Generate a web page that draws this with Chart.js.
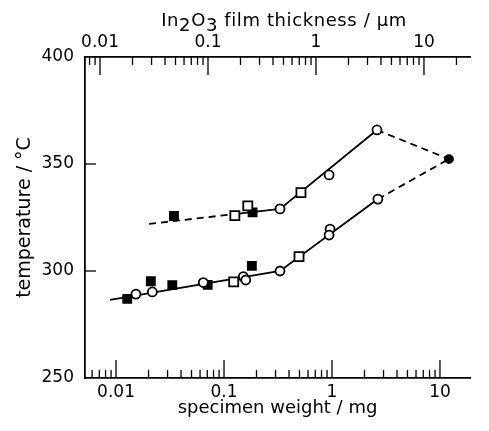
<!DOCTYPE html>
<html>
<head>
<meta charset="utf-8">
<script src="https://cdn.jsdelivr.net/npm/chart.js@4.4.1/dist/chart.umd.min.js"></script>
<style>
  body { margin: 0; background: #ffffff; }
  canvas { display: block; }
</style>
</head>
<body>
<canvas id="grafica" width="489" height="431"></canvas>
<script>
// Specimen weight (mg) and temperature (°C)
const upCircleW = [0.33, 0.94, 2.61];
const upCircleT = [329, 344.9, 365.9];
const upSquareW = [0.126, 0.166, 0.516];
const upSquareT = [325.9, 330.4, 336.6];
const upFilledW = [0.0344, 0.184];
const upFilledT = [325.7, 327.4];

const lowCircleW = [0.0153, 0.0217, 0.0643, 0.151, 0.159, 0.33, 0.96, 0.94, 2.66];
const lowCircleT = [289.2, 290.2, 294.6, 297.4, 295.8, 300.0, 319.6, 316.8, 333.6];
const lowSquareW = [0.123, 0.495];
const lowSquareT = [294.9, 306.7];
const lowFilledW = [0.0127, 0.021, 0.0332, 0.0706, 0.181];
const lowFilledT = [287, 295.2, 293.4, 293.5, 302.4];

const bulkW = [12.1];
const bulkT = [352.3];

// Fitted lines
const upDash1W = [0.0202, 0.125];
const upDash1T = [322, 326.6];
const upSolidW = [0.125, 0.33, 2.61];
const upSolidT = [326.6, 329, 365.9];
const upDash2W = [2.61, 12.1];
const upDash2T = [365.9, 352.3];
const lowSolidW = [0.0088, 0.33, 2.66];
const lowSolidT = [286.5, 300, 333.6];
const lowDashW = [2.66, 12.1];
const lowDashT = [333.6, 352.3];

// Axes
const weightMin = 0.00516;
const weightMax = 18.97;
const thicknessPerWeight = 1.407; // µm per mg
const decadeValues = [0.01, 0.1, 1, 10];
const decadeLabels = ['0.01', '0.1', '1', '10'];
const tempMin = 250;
const tempMax = 400;
const tempStep = 50;

// Top title pieces: [text, subscript?]
const topTitle = [['In', false], ['2', true], ['O', false], ['3', true], [' film thickness / \u00b5m', false]];

const fuente = 'DejaVu Sans';

function pares(xs, ys) {
    return xs.map((x, i) => ({ x: x, y: ys[i] }));
}

function esDecada(v) {
    const l = Math.log10(v);
    return Math.abs(l - Math.round(l)) < 1e-6;
}

function ticksLog(scale) {
    const out = [];
    for (let e = -3; e <= 2; e++) {
        for (let m = 1; m <= 9; m++) {
            const v = m * Math.pow(10, e);
            if (v >= scale.min && v <= scale.max) out.push({ value: v, major: m === 1 });
        }
    }
    scale.ticks = out;
}

function etiquetaDecada(v) {
    const i = decadeValues.findIndex(d => Math.abs(d - v) / d < 1e-6);
    return i >= 0 ? decadeLabels[i] : '';
}

function marcador(label, data, style, radius, filled) {
    return {
        type: 'scatter',
        label: label,
        data: data,
        pointStyle: style,
        pointRadius: radius,
        pointHoverRadius: radius,
        pointBackgroundColor: filled ? '#000000' : '#ffffff',
        pointBorderColor: '#000000',
        pointBorderWidth: 1.8,
        showLine: false
    };
}

function linea(label, data, dashed) {
    return {
        type: 'line',
        label: label,
        data: data,
        borderColor: '#000000',
        borderWidth: 1.8,
        borderDash: dashed ? [7, 5] : [],
        pointRadius: 0,
        fill: false,
        tension: 0
    };
}

// Tick marks pointing into the plot, plus the top title with subscripts
const ticksInternos = {
    id: 'ticksInternos',
    afterDraw(chart) {
        const ctx = chart.ctx;
        const area = chart.chartArea;
        ctx.save();
        ctx.strokeStyle = '#000000';
        ctx.lineWidth = 1.3;
        ['x', 'x2'].forEach(id => {
            const scale = chart.scales[id];
            const borde = id === 'x' ? area.bottom : area.top;
            const dir = id === 'x' ? -1 : 1;
            scale.ticks.forEach(t => {
                const px = scale.getPixelForValue(t.value);
                if (px < area.left + 2 || px > area.right) return;
                const largo = esDecada(t.value) ? 18 : 8;
                ctx.beginPath();
                ctx.moveTo(px, borde);
                ctx.lineTo(px, borde + dir * largo);
                ctx.stroke();
            });
        });
        const y = chart.scales.y;
        y.ticks.forEach(t => {
            if (t.value <= tempMin || t.value >= tempMax) return;
            const py = y.getPixelForValue(t.value);
            ctx.beginPath();
            ctx.moveTo(area.left, py);
            ctx.lineTo(area.left + 11, py);
            ctx.stroke();
        });

        // top axis title
        ctx.font = '18px ' + fuente;
        ctx.letterSpacing = '0.6px';
        ctx.fillStyle = '#000000';
        ctx.textBaseline = 'alphabetic';
        ctx.textAlign = 'left';
        const anchos = topTitle.map(p => ctx.measureText(p[0]).width);
        const total = anchos.reduce((a, b) => a + b, 0);
        let xx = 284 - total / 2;
        topTitle.forEach((p, i) => {
            ctx.fillText(p[0], xx, p[1] ? 31 : 26);
            xx += anchos[i];
        });
        ctx.restore();
    }
};

Chart.defaults.font.family = fuente;
Chart.defaults.color = '#000000';

new Chart(document.getElementById('grafica'), {
    data: {
        datasets: [
            marcador('bulk', pares(bulkW, bulkT), 'circle', 4, true),
            marcador('upper open', pares(upCircleW, upCircleT), 'circle', 4.5, false),
            marcador('upper square', pares(upSquareW, upSquareT), 'rect', 6.4, false),
            marcador('upper filled', pares(upFilledW, upFilledT), 'rect', 5.7, true),
            marcador('lower open', pares(lowCircleW, lowCircleT), 'circle', 4.5, false),
            marcador('lower square', pares(lowSquareW, lowSquareT), 'rect', 6.4, false),
            marcador('lower filled', pares(lowFilledW, lowFilledT), 'rect', 5.7, true),
            linea('upper dash 1', pares(upDash1W, upDash1T), true),
            linea('upper solid', pares(upSolidW, upSolidT), false),
            linea('upper dash 2', pares(upDash2W, upDash2T), true),
            linea('lower solid', pares(lowSolidW, lowSolidT), false),
            linea('lower dash', pares(lowDashW, lowDashT), true)
        ]
    },
    options: {
        responsive: false,
        animation: false,
        layout: { padding: { left: 0, right: 19, top: 0, bottom: 0 } },
        plugins: {
            legend: { display: false },
            tooltip: { enabled: false }
        },
        scales: {
            x: {
                type: 'logarithmic',
                position: 'bottom',
                min: weightMin,
                max: weightMax,
                afterBuildTicks: ticksLog,
                afterFit: (s) => { s.height = 53; },
                grid: { display: false, drawTicks: false, tickLength: 0 },
                border: { display: true, color: '#000000', width: 1.8 },
                ticks: {
                    autoSkip: false,
                    maxRotation: 0,
                    padding: 4,
                    font: { size: 17 },
                    callback: (v) => etiquetaDecada(v)
                },
                title: {
                    display: true,
                    text: 'specimen weight / mg',
                    font: { size: 18 },
                    padding: { top: 0, bottom: 12 }
                }
            },
            x2: {
                type: 'logarithmic',
                position: 'top',
                min: weightMin * thicknessPerWeight,
                max: weightMax * thicknessPerWeight,
                afterBuildTicks: ticksLog,
                afterFit: (s) => { s.height = 57; },
                grid: { display: false, drawTicks: false, tickLength: 0 },
                border: { display: true, color: '#000000', width: 1.8 },
                ticks: {
                    autoSkip: false,
                    maxRotation: 0,
                    padding: 4,
                    font: { size: 17 },
                    callback: (v) => etiquetaDecada(v)
                },
                title: { display: false }
            },
            y: {
                type: 'linear',
                position: 'left',
                min: tempMin,
                max: tempMax,
                afterFit: (s) => { s.width = 85; },
                grid: { display: false, drawTicks: false, tickLength: 0 },
                border: { display: true, color: '#000000', width: 1.8 },
                ticks: {
                    stepSize: tempStep,
                    padding: 11,
                    font: { size: 17 }
                },
                title: {
                    display: true,
                    text: 'temperature / \u00b0C',
                    font: { size: 19 },
                    padding: { top: 14, bottom: 0 }
                }
            }
        }
    },
    plugins: [ticksInternos]
});
</script>
</body>
</html>
